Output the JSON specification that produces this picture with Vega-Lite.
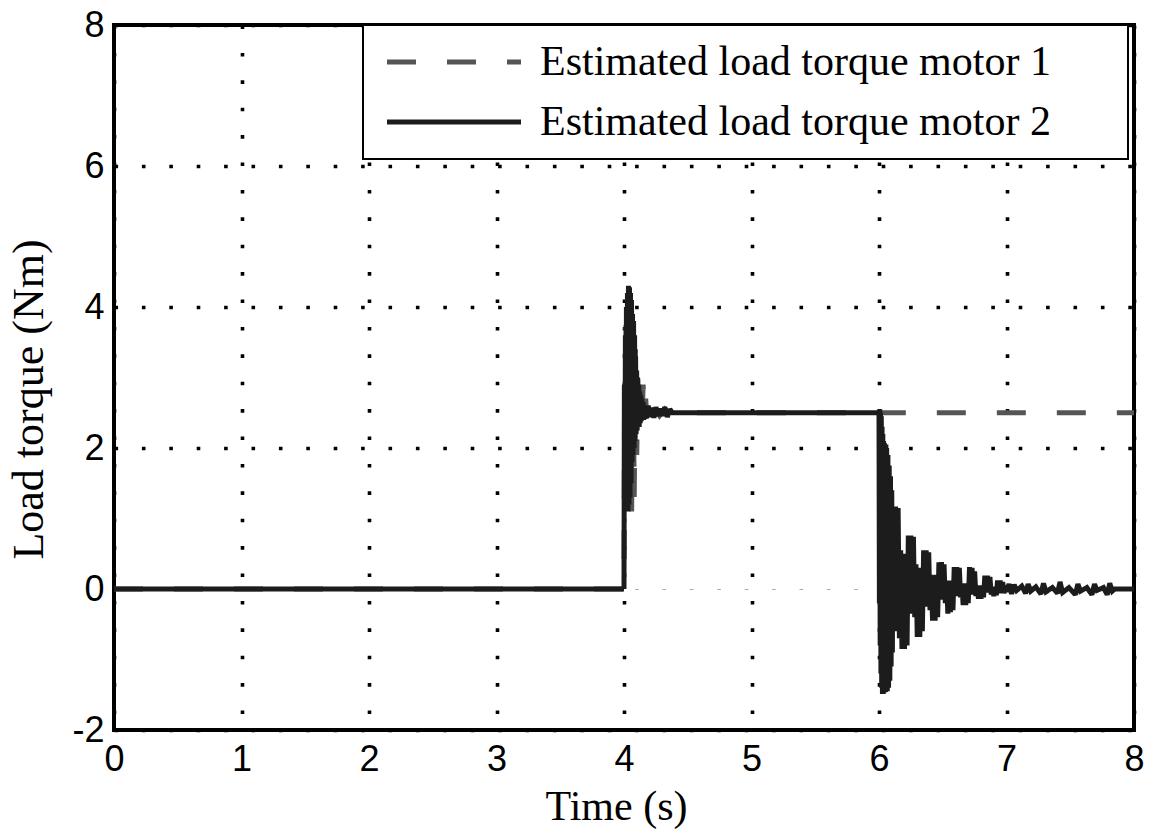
{
  "$schema": "https://vega.github.io/schema/vega-lite/v6.json",
  "width": 1020,
  "height": 705,
  "autosize": {"type": "none"},
  "padding": {"left": 114, "top": 25, "right": 19, "bottom": 102},
  "background": "white",
  "config": {
    "view": {"stroke": "black", "strokeWidth": 4},
    "axis": {
      "domain": false,
      "ticks": false,
      "labelFlush": false,
      "labelFont": "Liberation Sans",
      "labelFontSize": 36,
      "labelColor": "black",
      "labelExpr": "'' + datum.value",
      "titleFont": "Liberation Serif",
      "titleFontSize": 42,
      "titleFontWeight": "normal",
      "titleColor": "black",
      "gridColor": "black",
      "gridWidth": 3.6,
      "gridDash": [3.6, 23.8],
      "gridOpacity": 1
    },
    "legend": {
      "strokeColor": "black",
      "strokeWidth": 2,
      "fillColor": "white",
      "cornerRadius": 0
    }
  },
  "datasets": {
    "torque": [
      {"t": 0, "v": 0, "s": "motor 1"},
      {"t": 3.99, "v": 0, "s": "motor 1"},
      {"t": 4.0, "v": 0, "s": "motor 1"},
      {"t": 4.004, "v": 2.6, "s": "motor 1"},
      {"t": 4.01, "v": 1.5, "s": "motor 1"},
      {"t": 4.016, "v": 3.8, "s": "motor 1"},
      {"t": 4.022, "v": 1.2, "s": "motor 1"},
      {"t": 4.03, "v": 4.1, "s": "motor 1"},
      {"t": 4.04, "v": 1.2, "s": "motor 1"},
      {"t": 4.05, "v": 4.0, "s": "motor 1"},
      {"t": 4.06, "v": 1.1, "s": "motor 1"},
      {"t": 4.07, "v": 3.7, "s": "motor 1"},
      {"t": 4.08, "v": 1.3, "s": "motor 1"},
      {"t": 4.09, "v": 3.4, "s": "motor 1"},
      {"t": 4.1, "v": 1.9, "s": "motor 1"},
      {"t": 4.11, "v": 3.15, "s": "motor 1"},
      {"t": 4.12, "v": 2.2, "s": "motor 1"},
      {"t": 4.13, "v": 3.05, "s": "motor 1"},
      {"t": 4.14, "v": 2.3, "s": "motor 1"},
      {"t": 4.15, "v": 2.9, "s": "motor 1"},
      {"t": 4.16, "v": 2.4, "s": "motor 1"},
      {"t": 4.17, "v": 2.7, "s": "motor 1"},
      {"t": 4.18, "v": 2.42, "s": "motor 1"},
      {"t": 4.2, "v": 2.58, "s": "motor 1"},
      {"t": 4.22, "v": 2.45, "s": "motor 1"},
      {"t": 4.25, "v": 2.56, "s": "motor 1"},
      {"t": 4.28, "v": 2.46, "s": "motor 1"},
      {"t": 4.32, "v": 2.55, "s": "motor 1"},
      {"t": 4.36, "v": 2.48, "s": "motor 1"},
      {"t": 4.4, "v": 2.5, "s": "motor 1"},
      {"t": 8.0, "v": 2.5, "s": "motor 1"},

      {"t": 0, "v": 0, "s": "motor 2"},
      {"t": 4.0, "v": 0, "s": "motor 2"},
      {"t": 4.003, "v": 2.9, "s": "motor 2"},
      {"t": 4.007, "v": 1.4, "s": "motor 2"},
      {"t": 4.011, "v": 3.6, "s": "motor 2"},
      {"t": 4.015, "v": 1.2, "s": "motor 2"},
      {"t": 4.019, "v": 4.0, "s": "motor 2"},
      {"t": 4.023, "v": 1.1, "s": "motor 2"},
      {"t": 4.027, "v": 4.2, "s": "motor 2"},
      {"t": 4.031, "v": 1.1, "s": "motor 2"},
      {"t": 4.035, "v": 4.3, "s": "motor 2"},
      {"t": 4.039, "v": 1.2, "s": "motor 2"},
      {"t": 4.043, "v": 4.28, "s": "motor 2"},
      {"t": 4.047, "v": 1.3, "s": "motor 2"},
      {"t": 4.051, "v": 4.2, "s": "motor 2"},
      {"t": 4.055, "v": 1.5, "s": "motor 2"},
      {"t": 4.059, "v": 4.1, "s": "motor 2"},
      {"t": 4.063, "v": 1.8, "s": "motor 2"},
      {"t": 4.067, "v": 3.9, "s": "motor 2"},
      {"t": 4.071, "v": 1.9, "s": "motor 2"},
      {"t": 4.075, "v": 3.8, "s": "motor 2"},
      {"t": 4.079, "v": 2.0, "s": "motor 2"},
      {"t": 4.083, "v": 3.6, "s": "motor 2"},
      {"t": 4.087, "v": 2.1, "s": "motor 2"},
      {"t": 4.091, "v": 3.3, "s": "motor 2"},
      {"t": 4.095, "v": 2.2, "s": "motor 2"},
      {"t": 4.099, "v": 3.1, "s": "motor 2"},
      {"t": 4.103, "v": 2.25, "s": "motor 2"},
      {"t": 4.107, "v": 3.0, "s": "motor 2"},
      {"t": 4.111, "v": 2.3, "s": "motor 2"},
      {"t": 4.115, "v": 2.9, "s": "motor 2"},
      {"t": 4.119, "v": 2.3, "s": "motor 2"},
      {"t": 4.123, "v": 2.8, "s": "motor 2"},
      {"t": 4.127, "v": 2.35, "s": "motor 2"},
      {"t": 4.131, "v": 2.75, "s": "motor 2"},
      {"t": 4.135, "v": 2.38, "s": "motor 2"},
      {"t": 4.14, "v": 2.7, "s": "motor 2"},
      {"t": 4.145, "v": 2.4, "s": "motor 2"},
      {"t": 4.15, "v": 2.65, "s": "motor 2"},
      {"t": 4.155, "v": 2.4, "s": "motor 2"},
      {"t": 4.16, "v": 2.6, "s": "motor 2"},
      {"t": 4.175, "v": 2.42, "s": "motor 2"},
      {"t": 4.19, "v": 2.6, "s": "motor 2"},
      {"t": 4.205, "v": 2.44, "s": "motor 2"},
      {"t": 4.22, "v": 2.57, "s": "motor 2"},
      {"t": 4.235, "v": 2.43, "s": "motor 2"},
      {"t": 4.25, "v": 2.58, "s": "motor 2"},
      {"t": 4.265, "v": 2.45, "s": "motor 2"},
      {"t": 4.28, "v": 2.56, "s": "motor 2"},
      {"t": 4.3, "v": 2.46, "s": "motor 2"},
      {"t": 4.32, "v": 2.58, "s": "motor 2"},
      {"t": 4.34, "v": 2.44, "s": "motor 2"},
      {"t": 4.36, "v": 2.55, "s": "motor 2"},
      {"t": 4.38, "v": 2.5, "s": "motor 2"},
      {"t": 5.995, "v": 2.5, "s": "motor 2"},
      {"t": 6.0, "v": 2.5, "s": "motor 2"},
      {"t": 6.003, "v": -0.2, "s": "motor 2"},
      {"t": 6.006, "v": 2.55, "s": "motor 2"},
      {"t": 6.009, "v": -0.8, "s": "motor 2"},
      {"t": 6.012, "v": 2.5, "s": "motor 2"},
      {"t": 6.015, "v": -1.2, "s": "motor 2"},
      {"t": 6.018, "v": 2.45, "s": "motor 2"},
      {"t": 6.021, "v": -1.4, "s": "motor 2"},
      {"t": 6.024, "v": 2.3, "s": "motor 2"},
      {"t": 6.027, "v": -1.49, "s": "motor 2"},
      {"t": 6.03, "v": 2.2, "s": "motor 2"},
      {"t": 6.033, "v": -1.49, "s": "motor 2"},
      {"t": 6.036, "v": 2.1, "s": "motor 2"},
      {"t": 6.039, "v": -1.47, "s": "motor 2"},
      {"t": 6.042, "v": 2.07, "s": "motor 2"},
      {"t": 6.045, "v": -1.46, "s": "motor 2"},
      {"t": 6.048, "v": 2.05, "s": "motor 2"},
      {"t": 6.051, "v": -1.46, "s": "motor 2"},
      {"t": 6.054, "v": 2.05, "s": "motor 2"},
      {"t": 6.057, "v": -1.45, "s": "motor 2"},
      {"t": 6.06, "v": 2.0, "s": "motor 2"},
      {"t": 6.065, "v": -1.45, "s": "motor 2"},
      {"t": 6.07, "v": 1.9, "s": "motor 2"},
      {"t": 6.075, "v": -1.4, "s": "motor 2"},
      {"t": 6.08, "v": 1.75, "s": "motor 2"},
      {"t": 6.085, "v": -1.3, "s": "motor 2"},
      {"t": 6.09, "v": 1.6, "s": "motor 2"},
      {"t": 6.095, "v": -1.1, "s": "motor 2"},
      {"t": 6.1, "v": 1.4, "s": "motor 2"},
      {"t": 6.105, "v": -0.9, "s": "motor 2"},
      {"t": 6.11, "v": 1.17, "s": "motor 2"},
      {"t": 6.12, "v": -0.55, "s": "motor 2"},
      {"t": 6.13, "v": 1.17, "s": "motor 2"},
      {"t": 6.14, "v": -0.6, "s": "motor 2"},
      {"t": 6.15, "v": 1.15, "s": "motor 2"},
      {"t": 6.16, "v": -0.7, "s": "motor 2"},
      {"t": 6.17, "v": 0.55, "s": "motor 2"},
      {"t": 6.18, "v": -0.85, "s": "motor 2"},
      {"t": 6.19, "v": 0.5, "s": "motor 2"},
      {"t": 6.2, "v": -0.85, "s": "motor 2"},
      {"t": 6.21, "v": 0.45, "s": "motor 2"},
      {"t": 6.22, "v": -0.8, "s": "motor 2"},
      {"t": 6.23, "v": 0.76, "s": "motor 2"},
      {"t": 6.24, "v": -0.35, "s": "motor 2"},
      {"t": 6.25, "v": 0.76, "s": "motor 2"},
      {"t": 6.26, "v": -0.3, "s": "motor 2"},
      {"t": 6.27, "v": 0.74, "s": "motor 2"},
      {"t": 6.28, "v": -0.4, "s": "motor 2"},
      {"t": 6.29, "v": 0.35, "s": "motor 2"},
      {"t": 6.3, "v": -0.68, "s": "motor 2"},
      {"t": 6.31, "v": 0.3, "s": "motor 2"},
      {"t": 6.32, "v": -0.68, "s": "motor 2"},
      {"t": 6.33, "v": 0.3, "s": "motor 2"},
      {"t": 6.34, "v": -0.6, "s": "motor 2"},
      {"t": 6.35, "v": 0.55, "s": "motor 2"},
      {"t": 6.36, "v": -0.25, "s": "motor 2"},
      {"t": 6.37, "v": 0.55, "s": "motor 2"},
      {"t": 6.38, "v": -0.2, "s": "motor 2"},
      {"t": 6.39, "v": 0.52, "s": "motor 2"},
      {"t": 6.4, "v": -0.3, "s": "motor 2"},
      {"t": 6.41, "v": 0.2, "s": "motor 2"},
      {"t": 6.42, "v": -0.45, "s": "motor 2"},
      {"t": 6.43, "v": 0.18, "s": "motor 2"},
      {"t": 6.44, "v": -0.45, "s": "motor 2"},
      {"t": 6.45, "v": 0.2, "s": "motor 2"},
      {"t": 6.46, "v": -0.4, "s": "motor 2"},
      {"t": 6.47, "v": 0.38, "s": "motor 2"},
      {"t": 6.48, "v": -0.15, "s": "motor 2"},
      {"t": 6.49, "v": 0.38, "s": "motor 2"},
      {"t": 6.5, "v": -0.12, "s": "motor 2"},
      {"t": 6.51, "v": 0.35, "s": "motor 2"},
      {"t": 6.52, "v": -0.2, "s": "motor 2"},
      {"t": 6.53, "v": 0.12, "s": "motor 2"},
      {"t": 6.54, "v": -0.35, "s": "motor 2"},
      {"t": 6.55, "v": 0.1, "s": "motor 2"},
      {"t": 6.56, "v": -0.33, "s": "motor 2"},
      {"t": 6.57, "v": 0.12, "s": "motor 2"},
      {"t": 6.58, "v": -0.3, "s": "motor 2"},
      {"t": 6.59, "v": 0.31, "s": "motor 2"},
      {"t": 6.6, "v": -0.1, "s": "motor 2"},
      {"t": 6.61, "v": 0.31, "s": "motor 2"},
      {"t": 6.62, "v": -0.08, "s": "motor 2"},
      {"t": 6.63, "v": 0.3, "s": "motor 2"},
      {"t": 6.64, "v": -0.12, "s": "motor 2"},
      {"t": 6.65, "v": 0.08, "s": "motor 2"},
      {"t": 6.66, "v": -0.23, "s": "motor 2"},
      {"t": 6.67, "v": 0.06, "s": "motor 2"},
      {"t": 6.68, "v": -0.23, "s": "motor 2"},
      {"t": 6.69, "v": 0.08, "s": "motor 2"},
      {"t": 6.7, "v": -0.2, "s": "motor 2"},
      {"t": 6.71, "v": 0.31, "s": "motor 2"},
      {"t": 6.72, "v": -0.08, "s": "motor 2"},
      {"t": 6.73, "v": 0.3, "s": "motor 2"},
      {"t": 6.74, "v": -0.06, "s": "motor 2"},
      {"t": 6.75, "v": 0.25, "s": "motor 2"},
      {"t": 6.76, "v": -0.1, "s": "motor 2"},
      {"t": 6.77, "v": 0.05, "s": "motor 2"},
      {"t": 6.78, "v": -0.14, "s": "motor 2"},
      {"t": 6.79, "v": 0.04, "s": "motor 2"},
      {"t": 6.8, "v": -0.14, "s": "motor 2"},
      {"t": 6.81, "v": 0.05, "s": "motor 2"},
      {"t": 6.82, "v": -0.12, "s": "motor 2"},
      {"t": 6.83, "v": 0.19, "s": "motor 2"},
      {"t": 6.84, "v": -0.05, "s": "motor 2"},
      {"t": 6.85, "v": 0.19, "s": "motor 2"},
      {"t": 6.86, "v": -0.04, "s": "motor 2"},
      {"t": 6.87, "v": 0.17, "s": "motor 2"},
      {"t": 6.88, "v": -0.08, "s": "motor 2"},
      {"t": 6.89, "v": 0.03, "s": "motor 2"},
      {"t": 6.9, "v": -0.1, "s": "motor 2"},
      {"t": 6.91, "v": 0.02, "s": "motor 2"},
      {"t": 6.92, "v": -0.09, "s": "motor 2"},
      {"t": 6.93, "v": 0.12, "s": "motor 2"},
      {"t": 6.94, "v": -0.05, "s": "motor 2"},
      {"t": 6.95, "v": 0.12, "s": "motor 2"},
      {"t": 6.96, "v": -0.06, "s": "motor 2"},
      {"t": 6.97, "v": 0.1, "s": "motor 2"},
      {"t": 6.98, "v": -0.06, "s": "motor 2"},
      {"t": 6.99, "v": 0.05, "s": "motor 2"},
      {"t": 7.0, "v": -0.04, "s": "motor 2"},
      {"t": 7.02, "v": 0.07, "s": "motor 2"},
      {"t": 7.04, "v": -0.07, "s": "motor 2"},
      {"t": 7.06, "v": 0.06, "s": "motor 2"},
      {"t": 7.08, "v": -0.02, "s": "motor 2"},
      {"t": 7.12, "v": 0.04, "s": "motor 2"},
      {"t": 7.15, "v": -0.06, "s": "motor 2"},
      {"t": 7.17, "v": 0.07, "s": "motor 2"},
      {"t": 7.19, "v": -0.03, "s": "motor 2"},
      {"t": 7.23, "v": 0.03, "s": "motor 2"},
      {"t": 7.27, "v": -0.07, "s": "motor 2"},
      {"t": 7.29, "v": 0.08, "s": "motor 2"},
      {"t": 7.31, "v": -0.04, "s": "motor 2"},
      {"t": 7.36, "v": 0.02, "s": "motor 2"},
      {"t": 7.4, "v": -0.06, "s": "motor 2"},
      {"t": 7.42, "v": 0.1, "s": "motor 2"},
      {"t": 7.44, "v": -0.05, "s": "motor 2"},
      {"t": 7.49, "v": 0.02, "s": "motor 2"},
      {"t": 7.54, "v": -0.08, "s": "motor 2"},
      {"t": 7.56, "v": 0.07, "s": "motor 2"},
      {"t": 7.58, "v": -0.03, "s": "motor 2"},
      {"t": 7.63, "v": 0.02, "s": "motor 2"},
      {"t": 7.67, "v": -0.08, "s": "motor 2"},
      {"t": 7.69, "v": 0.07, "s": "motor 2"},
      {"t": 7.71, "v": -0.02, "s": "motor 2"},
      {"t": 7.76, "v": 0.02, "s": "motor 2"},
      {"t": 7.79, "v": -0.08, "s": "motor 2"},
      {"t": 7.81, "v": 0.08, "s": "motor 2"},
      {"t": 7.83, "v": -0.03, "s": "motor 2"},
      {"t": 7.85, "v": 0.0, "s": "motor 2"},
      {"t": 8.0, "v": 0.0, "s": "motor 2"}
    ]
  },
  "data": {"name": "torque"},
  "mark": {"type": "line", "strokeWidth": 5, "strokeCap": "butt", "strokeJoin": "miter", "strokeMiterLimit": 2},
  "encoding": {
    "x": {
      "field": "t",
      "type": "quantitative",
      "scale": {"domain": [0, 8], "nice": false, "zero": false},
      "axis": {
        "values": [0, 1, 2, 3, 4, 5, 6, 7, 8],
        "title": "Time (s)",
        "labelPadding": 12,
        "titleX": 502,
        "titleY": 89,
        "titleAnchor": "start",
        "titleAlign": "center",
        "titleBaseline": "alphabetic"
      }
    },
    "y": {
      "field": "v",
      "type": "quantitative",
      "scale": {"domain": [-2, 8], "nice": false, "zero": false},
      "axis": {
        "values": [-2, 0, 2, 4, 6, 8],
        "title": "Load torque (Nm)",
        "titleFontSize": 44,
        "labelPadding": 10,
        "titleX": -72,
        "titleY": 374,
        "titleAlign": "center",
        "titleBaseline": "alphabetic",
        "gridColor": {"condition": {"test": "datum.value === 0", "value": "#aaaaaa"}, "value": "black"},
        "gridWidth": {"condition": {"test": "datum.value === 0", "value": 1}, "value": 3.6}
      }
    },
    "color": {
      "field": "s",
      "type": "nominal",
      "scale": {"domain": ["motor 1", "motor 2"], "range": ["#555555", "#1c1c1c"]},
      "legend": {
        "orient": "none",
        "legendX": 249,
        "legendY": 0,
        "title": "\u00a0",
        "titleOrient": "right",
        "titlePadding": 61,
        "titleFontSize": 42,
        "padding": 16,
        "rowPadding": 18,
        "symbolType": "M-4,0H4",
        "symbolSize": 1122,
        "symbolStrokeWidth": 5,
        "symbolOffset": 54,
        "labelOffset": 65,
        "labelFont": "Liberation Serif",
        "labelFontSize": 42,
        "labelColor": "black",
        "labelLimit": 800,
        "labelExpr": "'Estimated load torque ' + datum.label"
      }
    },
    "strokeDash": {
      "field": "s",
      "type": "nominal",
      "scale": {"domain": ["motor 1", "motor 2"], "range": [[29, 31], [1, 0]]},
      "legend": {
        "orient": "none",
        "legendX": 249,
        "legendY": 0,
        "title": "\u00a0",
        "titleOrient": "right",
        "titlePadding": 61,
        "titleFontSize": 42,
        "padding": 16,
        "rowPadding": 18,
        "symbolType": "M-4,0H4",
        "symbolSize": 1122,
        "symbolStrokeWidth": 5,
        "symbolOffset": 54,
        "labelOffset": 65,
        "labelFont": "Liberation Serif",
        "labelFontSize": 42,
        "labelColor": "black",
        "labelLimit": 800,
        "labelExpr": "'Estimated load torque ' + datum.label"
      }
    }
  }
}
